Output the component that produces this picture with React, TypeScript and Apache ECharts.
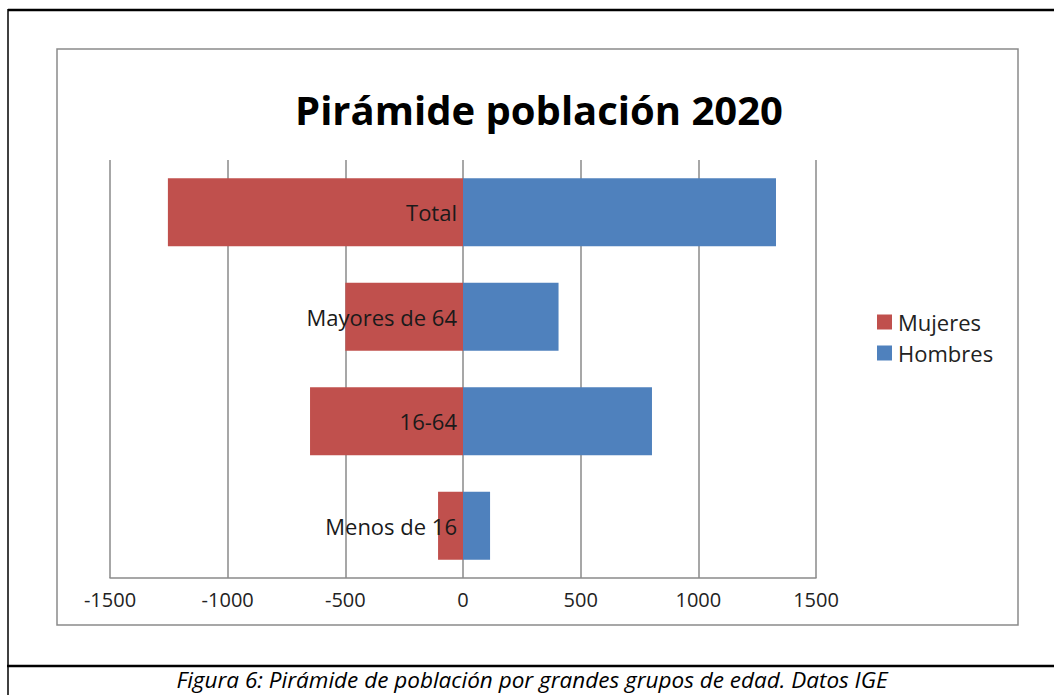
import React, { useEffect, useRef } from "react";
import * as echarts from "echarts";

const categories = ["Menos de 16", "16-64", "Mayores de 64", "Total"];
const mujeres = [-106, -650, -500, -1254];
const hombres = [115, 803, 406, 1330];
const xTicks = [-1500, -1000, -500, 0, 500, 1000, 1500];
const titleText = "Pirámide población 2020";
const captionText = "Figura 6: Pirámide de población por grandes grupos de edad. Datos IGE";

const FONT = "'Open Sans', 'Liberation Sans', sans-serif";

export default function App() {
  const ref = useRef<HTMLDivElement>(null);
  useEffect(() => {
    document.body.style.margin = "0";
    const chart = echarts.init(ref.current!, null, { renderer: "svg" });
    chart.setOption({
      animation: false,
      backgroundColor: "#ffffff",
      title: {
        text: titleText,
        left: 534,
        textAlign: "center",
        top: 84,
        textStyle: { fontFamily: FONT, fontWeight: "bold", fontSize: 40, color: "#000" },
      },
      legend: {
        orient: "vertical",
        left: 872,
        top: 306,
        itemWidth: 15,
        itemHeight: 15,
        itemGap: 9,
        icon: "rect",
        data: ["Mujeres", "Hombres"],
        textStyle: { fontFamily: FONT, fontSize: 22, color: "#222", padding: [0, 0, 0, 1] },
      },
      grid: { left: 110, right: 238, top: 160, bottom: 117, containLabel: false, outerBoundsMode: "none" },
      xAxis: {
        type: "value",
        min: xTicks[0],
        max: xTicks[xTicks.length - 1],
        interval: 500,
        axisLine: { show: true, lineStyle: { color: "#8a8a8a", width: 1.5 } },
        axisTick: { show: false },
        splitLine: { show: true, lineStyle: { color: "#8a8a8a", width: 1.5 } },
        axisLabel: {
          fontFamily: FONT,
          fontSize: 20,
          color: "#222",
          margin: 11,
          formatter: (v: number) => String(v),
        },
      },
      yAxis: {
        type: "category",
        data: categories,
        z: 10,
        position: "left",
        offset: -353,
        axisLine: { show: false },
        axisTick: { show: false },
        axisLabel: { fontFamily: FONT, fontSize: 22, color: "#1a1a1a", margin: 6 },
      },
      series: [
        {
          name: "Mujeres",
          type: "bar",
          stack: "p",
          data: mujeres,
          barCategoryGap: "35%",
          itemStyle: { color: "#C0504D" },
        },
        {
          name: "Hombres",
          type: "bar",
          stack: "p",
          data: hombres,
          barCategoryGap: "35%",
          itemStyle: { color: "#4F81BD" },
        },
      ],
      graphic: [
        { type: "rect", shape: { x: 57, y: 49, width: 961, height: 576 }, style: { fill: "none", stroke: "#8a8a8a", lineWidth: 1.5 }, z: -1 },
        { type: "line", shape: { x1: 8, y1: 10, x2: 1054, y2: 10 }, style: { stroke: "#000", lineWidth: 2.5 } },
        { type: "line", shape: { x1: 8, y1: 9, x2: 8, y2: 695 }, style: { stroke: "#000", lineWidth: 1.5 } },
        { type: "line", shape: { x1: 7, y1: 666, x2: 1054, y2: 666 }, style: { stroke: "#000", lineWidth: 2.5 } },
        {
          type: "text",
          x: 532,
          y: 679,
          style: {
            text: captionText,
            fontFamily: FONT,
            fontStyle: "italic",
            fontSize: 22.5,
            fill: "#000",
            align: "center",
            verticalAlign: "middle",
          },
        },
      ],
    });
    return () => chart.dispose();
  }, []);
  return <div ref={ref} style={{ width: 1054, height: 695, position: "absolute", left: 0, top: 0 }} />;
}
